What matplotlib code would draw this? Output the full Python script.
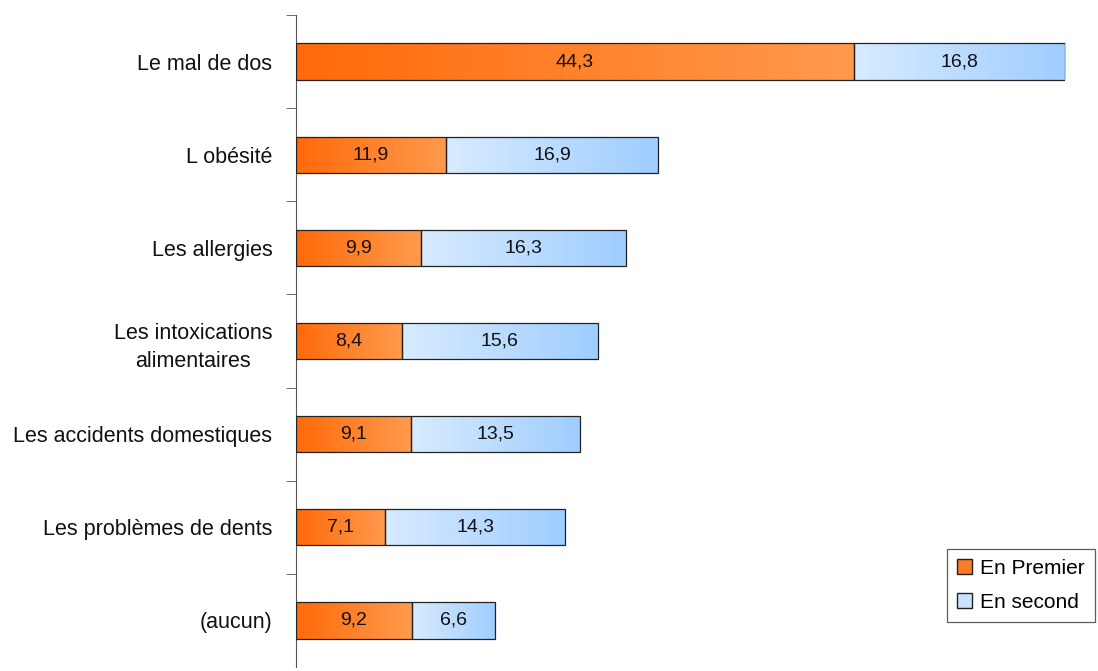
import numpy as np
import matplotlib.pyplot as plt
from matplotlib.colors import LinearSegmentedColormap
from matplotlib.patches import Patch

plt.rcParams['font.family'] = ['Liberation Sans', 'DejaVu Sans']

# données
categories = ["Le mal de dos", "L obésité", "Les allergies",
              "Les intoxications\nalimentaires", "Les accidents domestiques",
              "Les problèmes de dents", "(aucun)"]
premier = [44.3, 11.9, 9.9, 8.4, 9.1, 7.1, 9.2]
second = [16.8, 16.9, 16.3, 15.6, 13.5, 14.3, 6.6]
labels_series = ["En Premier", "En second"]

cmap_orange = LinearSegmentedColormap.from_list("or", ["#ff6a0a", "#ff9a4d"])
cmap_bleu = LinearSegmentedColormap.from_list("bl", ["#d8ebff", "#9fcdff"])
grad = np.linspace(0, 1, 256).reshape(1, -1)

fig = plt.figure(figsize=(10.98, 6.71), dpi=100)
ax = fig.add_axes([296 / 1098, 4 / 671, (1065 - 296) / 1098, 652 / 671])

y = np.arange(len(categories))
h = 0.39


def barre_degrade(x0, w, yc, cmap):
    # barre avec un dégradé horizontal
    bar = ax.barh(yc, w, left=x0, height=h, color='none', edgecolor='#222222',
                  linewidth=0.9, zorder=3)[0]
    im = ax.imshow(grad, cmap=cmap, aspect='auto', zorder=2,
                   extent=[x0, x0 + w, yc - h / 2, yc + h / 2])
    im.set_clip_path(bar)
    return bar


for i in range(len(categories)):
    barre_degrade(0, premier[i], y[i], cmap_orange)
    barre_degrade(premier[i], second[i], y[i], cmap_bleu)
    ax.text(premier[i] / 2, y[i], f"{premier[i]:.1f}".replace('.', ','),
            ha='center', va='center', fontsize=14, color='#111111', zorder=4)
    ax.text(premier[i] + second[i] / 2, y[i], f"{second[i]:.1f}".replace('.', ','),
            ha='center', va='center', fontsize=14, color='#111111', zorder=4)

ax.set_xlim(0, 61.1)
ax.set_ylim(len(categories) - 0.5, -0.5)
ax.set_yticks(y)
ax.set_yticklabels(categories, fontsize=15.5, ha='right', multialignment='center',
                   color='#111111', linespacing=1.45)
ax.tick_params(axis='y', which='major', length=0, pad=17)
ax.set_yticks(np.arange(-0.5, len(categories) - 0.5, 1), minor=True)
ax.tick_params(axis='y', which='minor', length=7, color='#555555', direction='out')
ax.set_xticks([])
for s in ['top', 'right', 'bottom']:
    ax.spines[s].set_visible(False)
ax.spines['left'].set_color('#555555')

handles = [Patch(facecolor='#ff7a25', edgecolor='#222222', label=labels_series[0]),
           Patch(facecolor='#c8e2ff', edgecolor='#222222', label=labels_series[1])]
leg = fig.legend(handles=handles, loc='lower right', bbox_to_anchor=(1095 / 1098, 1 - 622 / 671),
                 fontsize=15, frameon=True, fancybox=False, edgecolor='#333333',
                 handlelength=0.7, handleheight=0.7, handletextpad=0.4,
                 labelspacing=0.7, borderpad=0.5, borderaxespad=0)
leg.get_frame().set_linewidth(0.9)

fig.savefig("out.png", dpi=100)
